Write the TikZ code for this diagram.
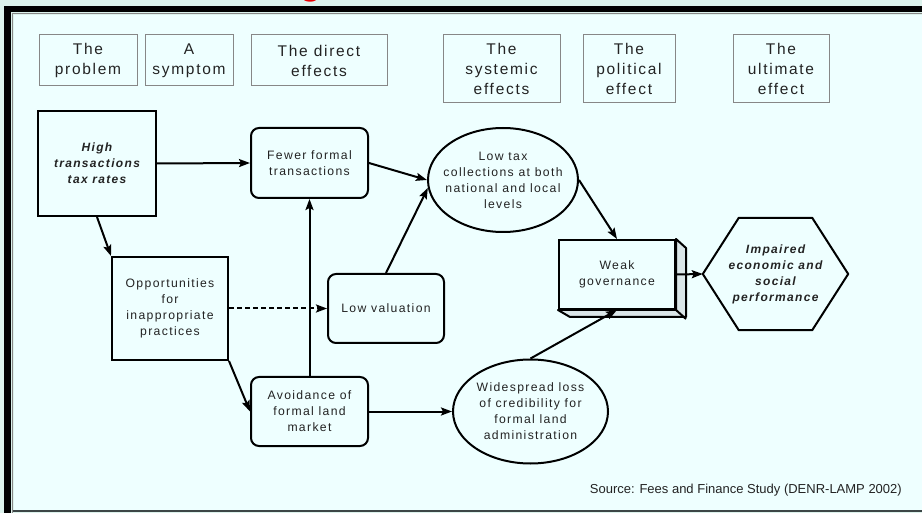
\documentclass[tikz,border=0pt]{standalone}
\usepackage{fontspec}
\setmainfont{Liberation Sans}
\newfontfamily\spacedfont[LetterSpace=11]{Liberation Sans}
\newfontfamily\titleserif{Liberation Serif}
\usetikzlibrary{arrows.meta,calc,shapes.geometric}
\definecolor{mint}{RGB}{220,242,236}
\definecolor{panel}{RGB}{238,255,255}
\definecolor{txt}{RGB}{35,35,35}
\definecolor{hdrline}{RGB}{135,135,135}
\definecolor{sideface}{RGB}{218,230,232}
\definecolor{titlered}{RGB}{235,0,0}
\definecolor{darkline}{RGB}{60,70,70}
\begin{document}
\begin{tikzpicture}[x=1pt,y=-1pt,
  hdr/.style={draw=hdrline, line width=1pt, fill=panel, inner sep=0pt, text=txt, align=center, font=\spacedfont\fontsize{15.5}{20}\selectfont},
  boxn/.style={draw=black, line width=2pt, fill=panel, inner sep=0pt, text=txt, align=center, font=\spacedfont\fontsize{12.2}{16}\selectfont},
  bold/.style={font=\spacedfont\bfseries\itshape\fontsize{12}{16}\selectfont},
  rbox/.style={boxn, rounded corners=8pt},
  ell/.style={boxn, ellipse},
  lbl/.style={align=center, text=txt, inner sep=0pt, font=\spacedfont\fontsize{12.2}{16}\selectfont},
  arr/.style={line width=2pt, -{Stealth[length=11pt,width=8pt,inset=2pt]}}
]
\useasboundingbox (0,0) rectangle (922,513);
% frame
\fill[mint] (0,0) rectangle (922,513);
\node[anchor=base, text=titlered, inner sep=0pt, font=\titleserif\bfseries\itshape\fontsize{36}{36}\selectfont] (titleg) at (314,-5.5) {g};
\fill[black] (4,6) rectangle (922,12);
\fill[black] (4,6) rectangle (11,513);
\draw[hdrline, line width=1.2pt] (12.8,513) -- (12.8,13.8) -- (922,13.8);
\fill[panel] (14,15) rectangle (922,510);
\draw[darkline, line width=1.8pt] (13,511) -- (922,511);

% header boxes
\node[hdr, minimum width=98pt, minimum height=51pt] (h1) at (88,60.5) {The\\problem};
\node[hdr, minimum width=88pt, minimum height=51pt] (h2) at (189,60.5) {A\\symptom};
\node[hdr, minimum width=136pt, minimum height=51pt] (h3) at (319,60.5) {The direct\\effects};
\node[hdr, minimum width=117pt, minimum height=68pt] (h4) at (501.5,69) {The\\systemic\\effects};
\node[hdr, minimum width=92pt, minimum height=68pt] (h5) at (629,69) {The\\political\\effect};
\node[hdr, minimum width=96pt, minimum height=68pt] (h6) at (781,69) {The\\ultimate\\effect};

% main nodes
\node[boxn, bold, minimum width=118pt, minimum height=105pt] (high) at (97,163.5) {High\\transactions\\tax rates};
\node[rbox, minimum width=117pt, minimum height=70pt] (fewer) at (309.5,163) {Fewer formal\\transactions};
\node[boxn, minimum width=116pt, minimum height=103pt] (opp) at (170,308.5) {Opportunities\\for\\inappropriate\\practices};
\node[rbox, minimum width=116pt, minimum height=69pt] (lowval) at (386,308.5) {Low valuation};
\node[rbox, minimum width=117pt, minimum height=69pt] (avoid) at (309.5,411.5) {Avoidance of\\formal land\\market};
\node[ell, minimum width=150pt, minimum height=104pt, label={[lbl]center:{Low tax\\collections at both\\national and local\\levels}}] (lowtax) at (503,180) {};
\node[ell, minimum width=155pt, minimum height=104pt, label={[lbl]center:{Widespread loss\\of credibility for\\formal land\\administration}}] (wide) at (530.5,411.5) {};
\node[boxn, minimum width=116pt, minimum height=69pt] (weak) at (617,274.5) {Weak\\governance};
\filldraw[fill=sideface, line width=2pt, line join=round] (weak.north east) -- ++(10,9) -- ++(0,69) -- ++(-116,0) -- (weak.south west) -- (weak.south east) -- cycle;
\draw[line width=2pt] (weak.south east) -- ++(10,9);
\node[inner sep=0pt, minimum width=145pt, minimum height=112pt, align=center, text=txt, bold] (hex) at (775.5,274) {Impaired\\economic and\\social\\performance};
\draw[line width=2pt, line join=round] (hex.west) -- ($(hex.north west)+(36,0)$) -- ($(hex.north east)+(-36,0)$) -- (hex.east) -- ($(hex.south east)+(-36,0)$) -- ($(hex.south west)+(36,0)$) -- cycle;

% source
\node[anchor=east, text=txt, inner sep=0pt, font=\fontsize{13}{15}\selectfont] (src) at (902,490) {Source: Fees and Finance Study (DENR-LAMP 2002)};

% connectors
\draw[arr] (high.east) -- (fewer.west);
\draw[arr] (high.south) -- (opp.north west);
\draw[arr, dashed, dash pattern=on 5pt off 3pt] (opp.east) -- (lowval.west);
\draw[arr] (opp.south east) -- (avoid.west);
\draw[arr] (avoid.north) -- (fewer.south);
\draw[arr] (fewer.east) -- (lowtax.west);
\draw[arr] (lowval.north) -- (lowtax.186);
\draw[arr] (lowtax.east) -- (weak.north);
\draw[arr] (avoid.east) -- (wide.west);
\draw[arr] (wide.north) -- (weak.south);
\draw[arr] (weak.east) -- (hex.west);
\end{tikzpicture}
\end{document}
